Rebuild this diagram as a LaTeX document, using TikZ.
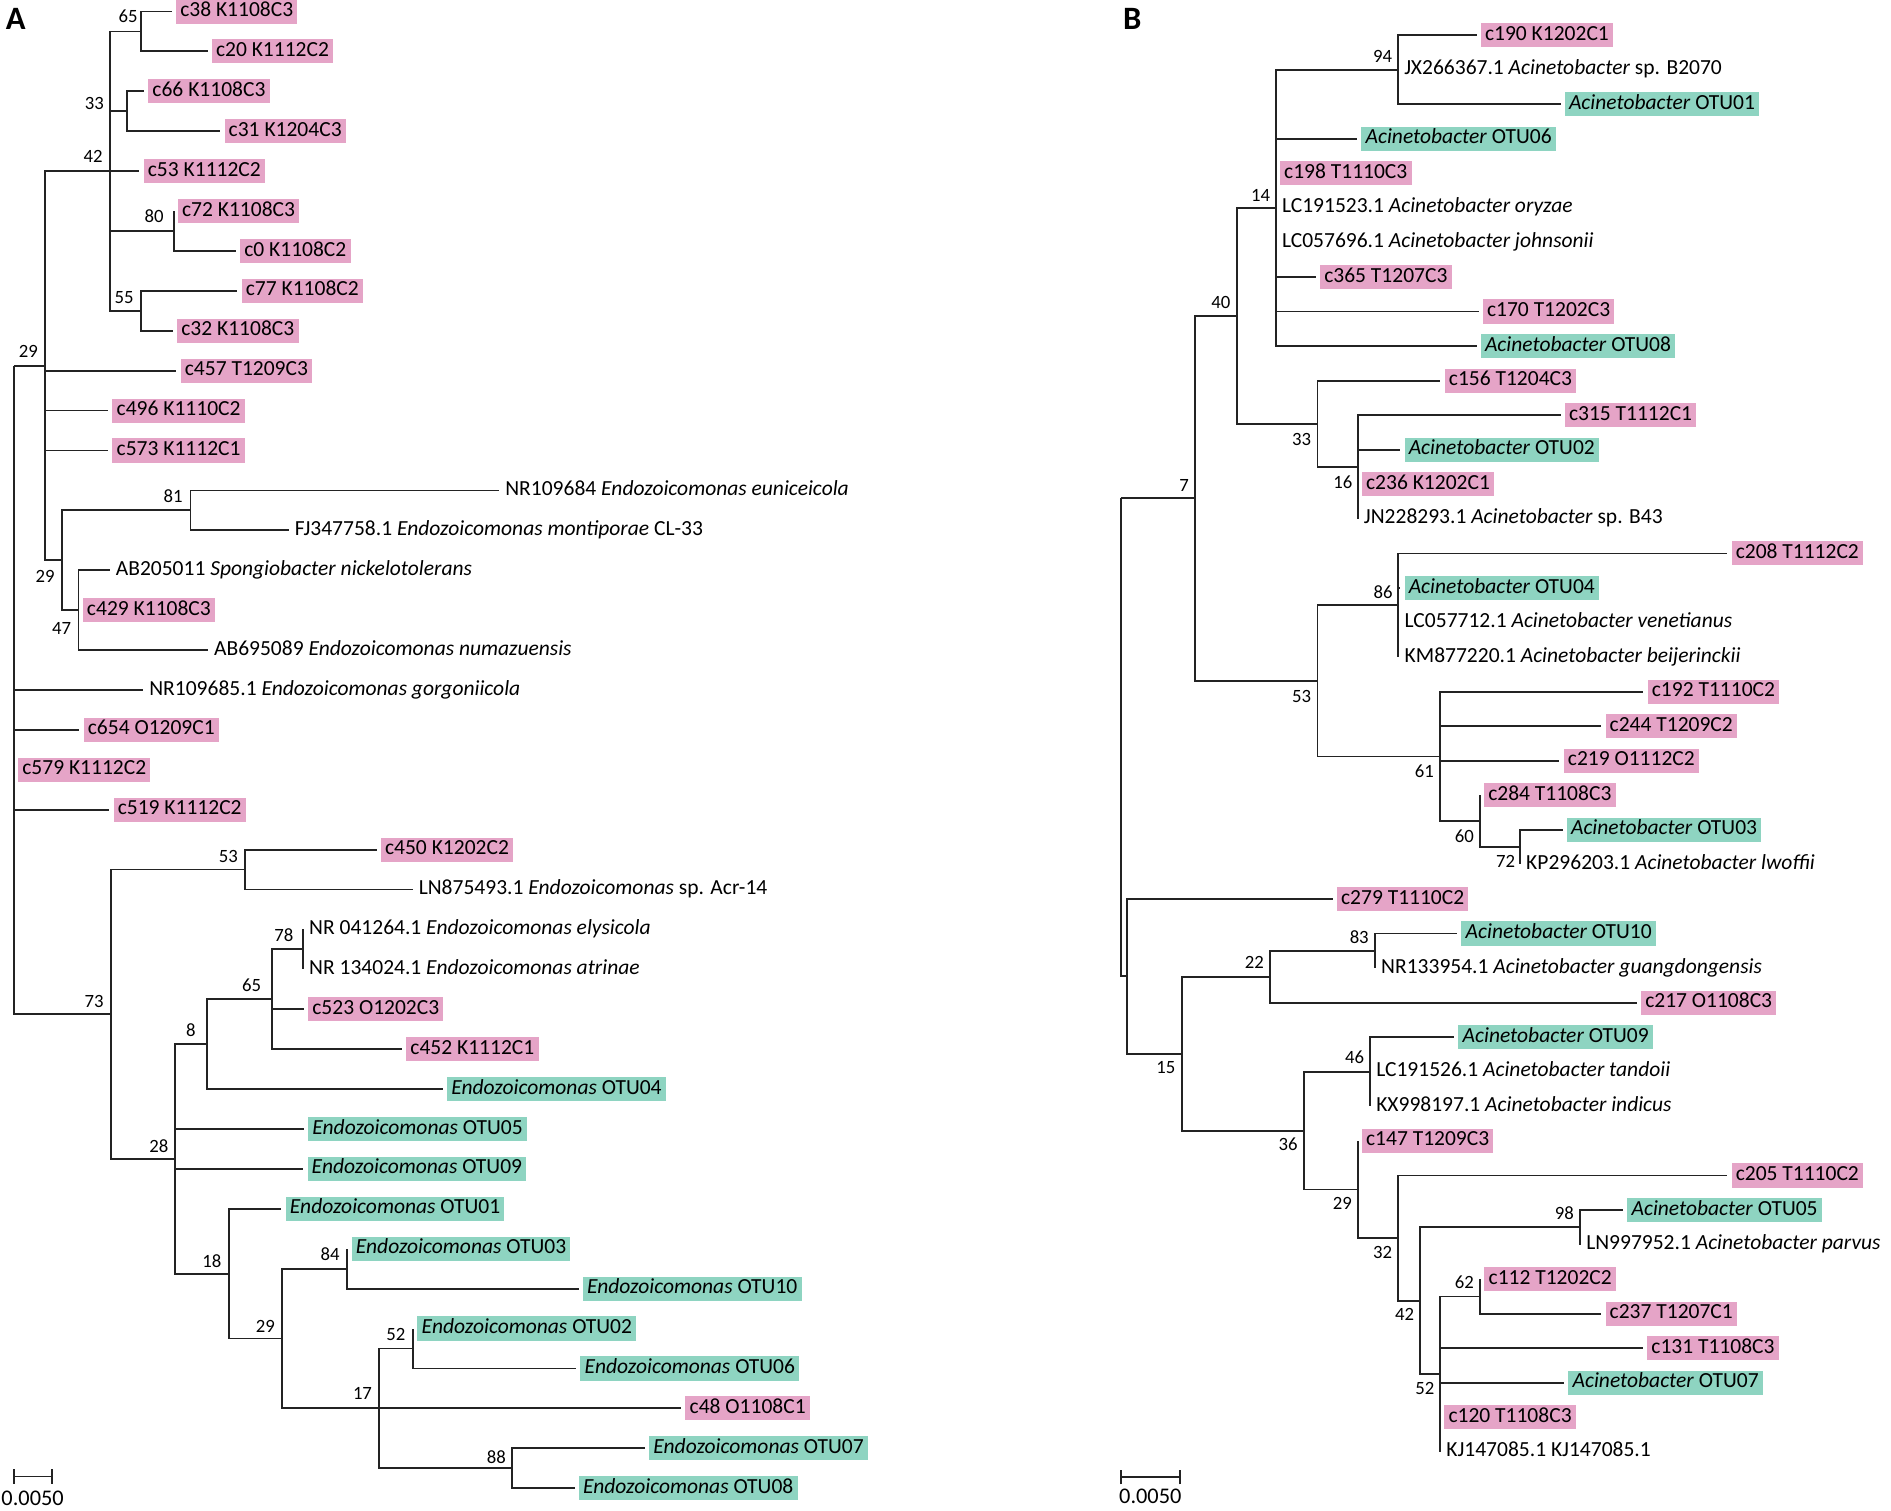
\documentclass[tikz,border=0pt]{standalone}
\usepackage{fontspec}
\setmainfont{Carlito}
\definecolor{pinkc}{RGB}{229,164,199}
\definecolor{tealc}{RGB}{142,212,193}
\definecolor{linec}{RGB}{35,35,35}
\begin{document}
\begin{tikzpicture}[x=1pt,y=-1pt,
  declare function={ya(\r)=9.5+33.03*\r; yb(\r)=29+28.6*\r;},
  lf/.style={anchor=west, font=\fontsize{17.8}{21}\selectfont, text height=12.7pt, text depth=4.3pt, inner ysep=1.5pt},
  pk/.style={lf, fill=pinkc, inner xsep=3.5pt, outer xsep=3.5pt},
  tl/.style={lf, fill=tealc, inner xsep=3.5pt, outer xsep=3.5pt},
  tx/.style={lf, inner xsep=5pt},
  bs/.style={font=\fontsize{15.5}{18}\selectfont, inner sep=0pt},
  br/.style={draw=linec, line width=1.5pt},
  pl/.style={font=\bfseries\fontsize{27}{28}\selectfont, inner sep=0pt},
  sc/.style={font=\fontsize{18.5}{20}\selectfont, inner sep=0pt}]
\useasboundingbox (0,0) rectangle (1565,1250);

% ---------------- Panel A ----------------
\node[pl] (labA) at (13,15.5) {A};
% leaves
\node[pk] (a0) at (142.2,{ya(0)}) {c38 K1108C3};
\node[pk] (a1) at (171.8,{ya(1)}) {c20 K1112C2};
\node[pk] (a2) at (119.2,{ya(2)}) {c66 K1108C3};
\node[pk] (a3) at (182.3,{ya(3)}) {c31 K1204C3};
\node[pk] (a4) at (115.4,{ya(4)}) {c53 K1112C2};
\node[pk] (a5) at (143.7,{ya(5)}) {c72 K1108C3};
\node[pk] (a6) at (195.2,{ya(6)}) {c0 K1108C2};
\node[pk] (a7) at (196.5,{ya(7)}) {c77 K1108C2};
\node[pk] (a8) at (143.1,{ya(8)}) {c32 K1108C3};
\node[pk] (a9) at (146,{ya(9)}) {c457 T1209C3};
\node[pk] (a10) at (89.6,{ya(10)}) {c496 K1110C2};
\node[pk] (a11) at (89.6,{ya(11)}) {c573 K1112C1};
\node[tx] (a12) at (413,{ya(12)}) {NR109684 \textit{Endozoicomonas euniceicola}};
\node[tx] (a13) at (238.8,{ya(13)}) {FJ347758.1 \textit{Endozoicomonas montiporae} CL-33};
\node[tx] (a14) at (90.7,{ya(14)}) {AB205011 \textit{Spongiobacter nickelotolerans}};
\node[pk] (a15) at (65,{ya(15)}) {c429 K1108C3};
\node[tx] (a16) at (172,{ya(16)}) {AB695089 \textit{Endozoicomonas numazuensis}};
\node[tx] (a17) at (118.4,{ya(17)}) {NR109685.1 \textit{Endozoicomonas gorgoniicola}};
\node[pk] (a18) at (65.7,{ya(18)}) {c654 O1209C1};
\node[pk] (a19) at (11.5,{ya(19)}) {c579 K1112C2};
\node[pk] (a20) at (90.5,{ya(20)}) {c519 K1112C2};
\node[pk] (a21) at (311.7,{ya(21)}) {c450 K1202C2};
\node[tx] (a22) at (341.4,{ya(22)}) {LN875493.1 \textit{Endozoicomonas} sp. Acr-14};
\node[tx] (a23) at (250.7,{ya(23)}) {NR 041264.1 \textit{Endozoicomonas elysicola}};
\node[tx] (a24) at (250.7,{ya(24)}) {NR 134024.1 \textit{Endozoicomonas atrinae}};
\node[pk] (a25) at (251.5,{ya(25)}) {c523 O1202C3};
\node[pk] (a26) at (332.7,{ya(26)}) {c452 K1112C1};
\node[tl] (a27) at (366.5,{ya(27)}) {\textit{Endozoicomonas} OTU04};
\node[tl] (a28) at (251.5,{ya(28)}) {\textit{Endozoicomonas} OTU05};
\node[tl] (a29) at (251,{ya(29)}) {\textit{Endozoicomonas} OTU09};
\node[tl] (a30) at (232.9,{ya(30)}) {\textit{Endozoicomonas} OTU01};
\node[tl] (a31) at (287.5,{ya(31)}) {\textit{Endozoicomonas} OTU03};
\node[tl] (a32) at (478.8,{ya(32)}) {\textit{Endozoicomonas} OTU10};
\node[tl] (a33) at (342,{ya(33)}) {\textit{Endozoicomonas} OTU02};
\node[tl] (a34) at (476.9,{ya(34)}) {\textit{Endozoicomonas} OTU06};
\node[pk] (a35) at (563.8,{ya(35)}) {c48 O1108C1};
\node[tl] (a36) at (533.7,{ya(36)}) {\textit{Endozoicomonas} OTU07};
\node[tl] (a37) at (475.5,{ya(37)}) {\textit{Endozoicomonas} OTU08};
% internal nodes
\coordinate (r65) at (117,{ya(0.5)});
\coordinate (r33) at (105,{ya(2.5)});
\coordinate (r80) at (143.7,{ya(5.5)});
\coordinate (r55) at (117,{ya(7.5)});
\coordinate (r42) at (90.7,{ya(4)});
\coordinate (r81) at (157.6,{ya(12.5)});
\coordinate (r47) at (65,{ya(15)});
\coordinate (r29l) at (51.6,{ya(13.75)});
\coordinate (r29u) at (37.2,{ya(8.875)});
\coordinate (r78) at (250.7,{ya(23.5)});
\coordinate (r65l) at (225,{ya(24.75)});
\coordinate (r8) at (171,{ya(25.875)});
\coordinate (r84) at (287.5,{ya(31.5)});
\coordinate (r52) at (342,{ya(33.5)});
\coordinate (r88) at (423.6,{ya(36.5)});
\coordinate (r17) at (313.7,{ya(35)});
\coordinate (r29c) at (233.5,{ya(33.25)});
\coordinate (r18) at (189.6,{ya(31.625)});
\coordinate (r28) at (144.7,{ya(28.75)});
\coordinate (r53) at (203,{ya(21.5)});
\coordinate (r73) at (91.7,{ya(25.125)});
\coordinate (rootA) at (11.5,{ya(8.875)});
% branches
\foreach \p/\c in {rootA/r29u, rootA/a17, rootA/a18, rootA/a19, rootA/a20, rootA/r73,
  r29u/r42, r29u/a9, r29u/a10, r29u/a11, r29u/r29l,
  r42/r65, r42/r33, r42/a4, r42/r80, r42/r55,
  r65/a0, r65/a1, r33/a2, r33/a3, r80/a5, r80/a6, r55/a7, r55/a8,
  r29l/r81, r29l/r47, r81/a12, r81/a13, r47/a14, r47/a15, r47/a16,
  r73/r53, r73/r28, r53/a21, r53/a22,
  r28/r8, r28/a28, r28/a29, r28/r18,
  r8/r65l, r8/a27, r65l/r78, r65l/a25, r65l/a26, r78/a23, r78/a24,
  r18/a30, r18/r29c, r29c/r84, r29c/r17, r84/a31, r84/a32,
  r17/r52, r17/a35, r17/r88, r52/a33, r52/a34, r88/a36, r88/a37}
  \draw[br] (\p) |- (\c.west);
% bootstrap values
\node[bs] (bA65) at (106,13.8) {65};
\node[bs] (bA33) at (78,86) {33};
\node[bs] (bA42) at (77,129.7) {42};
\node[bs] (bA80) at (127.5,179) {80};
\node[bs] (bA55) at (102.7,246) {55};
\node[bs] (bA29u) at (23.4,291) {29};
\node[bs] (bA81) at (143.3,410.6) {81};
\node[bs] (bA29l) at (37.3,476.8) {29};
\node[bs] (bA47) at (51,520) {47};
\node[bs] (bA53) at (189,708.6) {53};
\node[bs] (bA78) at (235,774) {78};
\node[bs] (bA65l) at (208.3,815.4) {65};
\node[bs] (bA73) at (77.9,829) {73};
\node[bs] (bA8) at (158,852.6) {8};
\node[bs] (bA28) at (131.4,948.4) {28};
\node[bs] (bA18) at (175.3,1043.9) {18};
\node[bs] (bA84) at (273.2,1038.3) {84};
\node[bs] (bA29c) at (219.7,1097.7) {29};
\node[bs] (bA52) at (327.7,1104.6) {52};
\node[bs] (bA17) at (300,1153.4) {17};
\node[bs] (bA88) at (410.8,1205.9) {88};
% scale bar A
\coordinate (sAl) at (11.5,1222);
\coordinate (sAr) at (43,1222);
\draw[br] (sAl) -- (sAr);
\draw[br] ([yshift=-6pt]sAl) -- ([yshift=6pt]sAl);
\draw[br] ([yshift=-6pt]sAr) -- ([yshift=6pt]sAr);
\node[sc] (scA) at (27,1240) {0.0050};

% ---------------- Panel B ----------------
\node[pl] (labB) at (937,15.5) {B};
\node[pk] (b0) at (1222,{yb(0)}) {c190 K1202C1};
\node[tx] (b1) at (1157,{yb(1)}) {JX266367.1 \textit{Acinetobacter} sp. B2070};
\node[tl] (b2) at (1291.5,{yb(2)}) {\textit{Acinetobacter} OTU01};
\node[tl] (b3) at (1123.2,{yb(3)}) {\textit{Acinetobacter} OTU06};
\node[pk] (b4) at (1055.8,{yb(4)}) {c198 T1110C3};
\node[tx] (b5) at (1055.8,{yb(5)}) {LC191523.1 \textit{Acinetobacter oryzae}};
\node[tx] (b6) at (1055.8,{yb(6)}) {LC057696.1 \textit{Acinetobacter johnsonii}};
\node[pk] (b7) at (1089,{yb(7)}) {c365 T1207C3};
\node[pk] (b8) at (1223.7,{yb(8)}) {c170 T1202C3};
\node[tl] (b9) at (1222,{yb(9)}) {\textit{Acinetobacter} OTU08};
\node[pk] (b10) at (1192.1,{yb(10)}) {c156 T1204C3};
\node[pk] (b11) at (1291.5,{yb(11)}) {c315 T1112C1};
\node[tl] (b12) at (1158.9,{yb(12)}) {\textit{Acinetobacter} OTU02};
\node[pk] (b13) at (1123.6,{yb(13)}) {c236 K1202C1};
\node[tx] (b14) at (1123.6,{yb(14)}) {JN228293.1 \textit{Acinetobacter} sp. B43};
\node[pk] (b15) at (1429.5,{yb(15)}) {c208 T1112C2};
\node[tl] (b16) at (1158.9,{yb(16)}) {\textit{Acinetobacter} OTU04};
\node[tx] (b17) at (1157.3,{yb(17)}) {LC057712.1 \textit{Acinetobacter venetianus}};
\node[tx] (b18) at (1157.3,{yb(18)}) {KM877220.1 \textit{Acinetobacter beijerinckii}};
\node[pk] (b19) at (1360.1,{yb(19)}) {c192 T1110C2};
\node[pk] (b20) at (1325.2,{yb(20)}) {c244 T1209C2};
\node[pk] (b21) at (1290.6,{yb(21)}) {c219 O1112C2};
\node[pk] (b22) at (1224.7,{yb(22)}) {c284 T1108C3};
\node[tl] (b23) at (1293.2,{yb(23)}) {\textit{Acinetobacter} OTU03};
\node[tx] (b24) at (1257.9,{yb(24)}) {KP296203.1 \textit{Acinetobacter lwoffii}};
\node[pk] (b25) at (1102.9,{yb(25)}) {c279 T1110C2};
\node[tl] (b26) at (1206,{yb(26)}) {\textit{Acinetobacter} OTU10};
\node[tx] (b27) at (1137.9,{yb(27)}) {NR133954.1 \textit{Acinetobacter guangdongensis}};
\node[pk] (b28) at (1354.6,{yb(28)}) {c217 O1108C3};
\node[tl] (b29) at (1203.5,{yb(29)}) {\textit{Acinetobacter} OTU09};
\node[tx] (b30) at (1133.8,{yb(30)}) {LC191526.1 \textit{Acinetobacter tandoii}};
\node[tx] (b31) at (1133.8,{yb(31)}) {KX998197.1 \textit{Acinetobacter indicus}};
\node[pk] (b32) at (1123.6,{yb(32)}) {c147 T1209C3};
\node[pk] (b33) at (1429.5,{yb(33)}) {c205 T1110C2};
\node[tl] (b34) at (1343.3,{yb(34)}) {\textit{Acinetobacter} OTU05};
\node[tx] (b35) at (1307.6,{yb(35)}) {LN997952.1 \textit{Acinetobacter parvus}};
\node[pk] (b36) at (1225,{yb(36)}) {c112 T1202C2};
\node[pk] (b37) at (1325.2,{yb(37)}) {c237 T1207C1};
\node[pk] (b38) at (1359.7,{yb(38)}) {c131 T1108C3};
\node[tl] (b39) at (1294.5,{yb(39)}) {\textit{Acinetobacter} OTU07};
\node[pk] (b40) at (1191.8,{yb(40)}) {c120 T1108C3};
\node[tx] (b41) at (1191.8,{yb(41)}) {KJ147085.1 KJ147085.1};
% internal nodes
\coordinate (s94) at (1157,{yb(1)});
\coordinate (s14) at (1055.8,{yb(5)});
\coordinate (s16) at (1123.6,{yb(12.5)});
\coordinate (s33) at (1090.4,{yb(11.25)});
\coordinate (s40) at (1023.4,{yb(8.125)});
\coordinate (s86) at (1157.3,{yb(16.5)});
\coordinate (s72) at (1257.9,{yb(23.5)});
\coordinate (s60) at (1224.7,{yb(22.75)});
\coordinate (s61) at (1191.4,{yb(20.875)});
\coordinate (s53) at (1090.4,{yb(18.6875)});
\coordinate (s7) at (989.3,{yb(13.40625)});
\coordinate (s83) at (1137.9,{yb(26.5)});
\coordinate (s22) at (1050.8,{yb(27.25)});
\coordinate (s46) at (1133.8,{yb(30)});
\coordinate (s98) at (1307.6,{yb(34.5)});
\coordinate (s62) at (1225,{yb(36.5)});
\coordinate (s52) at (1191.8,{yb(38.75)});
\coordinate (s42) at (1175,{yb(36.625)});
\coordinate (s32) at (1157,{yb(34.8125)});
\coordinate (s29) at (1123.6,{yb(33.40625)});
\coordinate (s36) at (1079,{yb(31.703)});
\coordinate (s15) at (978,{yb(29.477)});
\coordinate (sX) at (933,{yb(27.238)});
\coordinate (rootB) at (927.4,{yb(13.40625)});
\foreach \p/\c in {rootB/s7, rootB/sX,
  s7/s40, s7/s53, s40/s14, s40/s33,
  s14/s94, s14/b3, s14/b4, s14/b5, s14/b6, s14/b7, s14/b8, s14/b9,
  s94/b0, s94/b1, s94/b2,
  s33/b10, s33/s16, s16/b11, s16/b12, s16/b13, s16/b14,
  s53/s86, s53/s61, s86/b15, s86/b16, s86/b17, s86/b18,
  s61/b19, s61/b20, s61/b21, s61/s60, s60/b22, s60/s72, s72/b23, s72/b24,
  sX/b25, sX/s15, s15/s22, s15/s36, s22/s83, s22/b28, s83/b26, s83/b27,
  s36/s46, s36/s29, s46/b29, s46/b30, s46/b31,
  s29/b32, s29/s32, s32/b33, s32/s42, s42/s98, s42/s52, s98/b34, s98/b35,
  s52/s62, s52/b38, s52/b39, s52/b40, s52/b41, s62/b36, s62/b37}
  \draw[br] (\p) |- (\c.west);
% bootstrap values
\node[bs] (bB94) at (1144.3,46.9) {94};
\node[bs] (bB14) at (1043.2,161.4) {14};
\node[bs] (bB40) at (1010.4,250.6) {40};
\node[bs] (bB33) at (1077.3,363.4) {33};
\node[bs] (bB7) at (980,401.5) {7};
\node[bs] (bB16) at (1111.4,399.3) {16};
\node[bs] (bB86) at (1144.7,489.8) {86};
\node[bs] (bB53) at (1077.3,576.2) {53};
\node[bs] (bB61) at (1178.8,638.2) {61};
\node[bs] (bB60) at (1212,692) {60};
\node[bs] (bB72) at (1246.1,712.7) {72};
\node[bs] (bB83) at (1124.9,775.4) {83};
\node[bs] (bB22) at (1038.2,796.6) {22};
\node[bs] (bB15) at (964.9,883.8) {15};
\node[bs] (bB46) at (1121.1,875.3) {46};
\node[bs] (bB36) at (1066,947.3) {36};
\node[bs] (bB29) at (1111,996.1) {29};
\node[bs] (bB32) at (1144.3,1036.7) {32};
\node[bs] (bB98) at (1294.6,1003.9) {98};
\node[bs] (bB62) at (1212,1061) {62};
\node[bs] (bB42) at (1162.4,1088) {42};
\node[bs] (bB52) at (1179.2,1148.7) {52};
% scale bar B
\coordinate (sBl) at (927.4,1222.4);
\coordinate (sBr) at (976.7,1222.4);
\draw[br] (sBl) -- (sBr);
\draw[br] ([yshift=-6pt]sBl) -- ([yshift=6pt]sBl);
\draw[br] ([yshift=-6pt]sBr) -- ([yshift=6pt]sBr);
\node[sc] (scB) at (952,1238) {0.0050};
\end{tikzpicture}
\end{document}
